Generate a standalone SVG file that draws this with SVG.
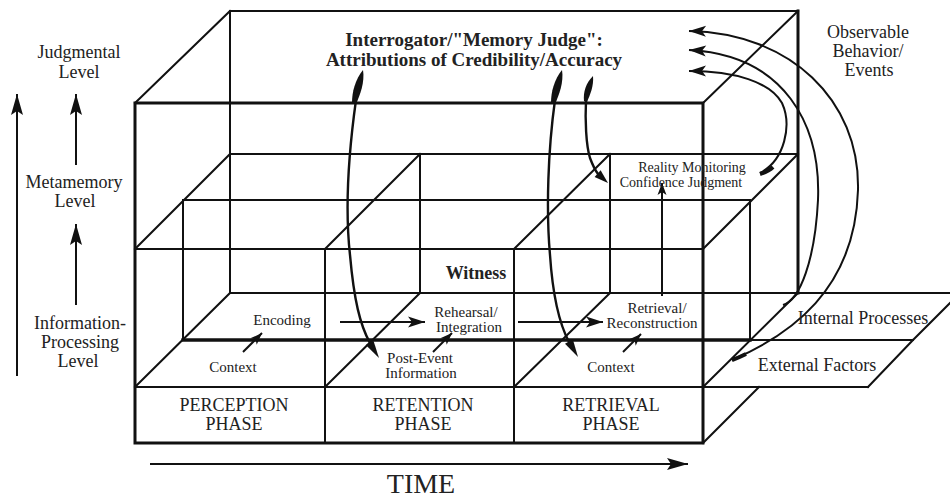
<svg xmlns="http://www.w3.org/2000/svg" width="950" height="499" viewBox="0 0 950 499">
<defs>
<style>
.t{font-family:"Liberation Serif","Times New Roman",serif;fill:#222;text-anchor:middle}
.b{font-weight:bold}
.L{font-size:18px}
.S{font-size:15px}
.ln{stroke:#111;stroke-width:2;fill:none;stroke-linecap:square}
.tk{stroke:#111;stroke-width:3;fill:none;stroke-linecap:square}
.c{stroke:#111;stroke-width:2;fill:none}
.cv{stroke:#111;stroke-width:2.4;fill:none}
.hd{fill:#111;stroke:none}
</style>
<marker id="big" viewBox="-22 -8 24 16" refX="0" refY="0" markerWidth="24" markerHeight="16" markerUnits="userSpaceOnUse" orient="auto">
<path d="M0,0 L-21,-6 L-17,0 L-21,6 Z" fill="#111"/>
</marker>
<marker id="mid" viewBox="-20 -7 22 14" refX="0" refY="0" markerWidth="22" markerHeight="14" markerUnits="userSpaceOnUse" orient="auto">
<path d="M0,0 L-17,-5.5 L-13,0 L-17,5.5 Z" fill="#111"/>
</marker>
<marker id="sm" viewBox="-14 -6 16 12" refX="0" refY="0" markerWidth="16" markerHeight="12" markerUnits="userSpaceOnUse" orient="auto">
<path d="M0,0 L-12,-4.5 L-9,0 L-12,4.5 Z" fill="#111"/>
</marker>
</defs>
<rect width="950" height="499" fill="#fff"/>

<g id="frame">
<path class="ln" d="M230,11 H798 M230,11 V293 M230,11 L135,103 M798,11 L703,103"/>
<path class="tk" d="M798,11 V293"/>
<path class="tk" d="M135,103 H703 M135,103 V443 H703 V103"/>
<path class="ln" d="M230,154 H798 M135,249 H703 M230,154 L135,249 M798,154 L703,249 M420,154 L325,249 M610,154 L514,249 M183,200 H750"/>
<path class="ln" d="M183,200 V340 M750,200 V340 M420,154 V293 M610,154 V293"/>
<path class="ln" d="M230,293 H950 M750,340 H913 M135,387 H868 M230,293 L135,387 M420,293 L325,387 M610,293 L514,387 M798,293 L703,387 M960,293 L913,340 M913,340 L868,387 M703,443 L759,387 M325,249 V443 M514,249 V443"/>
<path class="tk" d="M183,340 H750" style="stroke-width:3.4"/>
</g>

<g id="connectors">
<path class="c" d="M17,376 V94" marker-end="url(#big)"/>
<path class="c" d="M76,165 V94" marker-end="url(#big)"/>
<path class="c" d="M76,305 V224" marker-end="url(#big)"/>
<path class="c" d="M150,464 H688" marker-end="url(#big)"/>
<path class="c" d="M340,322 H425" marker-end="url(#mid)"/>
<path class="c" d="M518,322 H603" marker-end="url(#mid)"/>
<path class="c" d="M243,352 L262,333" marker-end="url(#sm)"/>
<path class="c" d="M433,352 L452,333" marker-end="url(#sm)"/>
<path class="c" d="M623,352 L641,334" marker-end="url(#sm)"/>
<path class="c" d="M662,296 V183" marker-end="url(#sm)"/>
<path class="cv" d="M356,100 C349,150 345,210 350,255 C354,300 360,325 370,343"/>
<path class="hd" d="M363,70 C365,82 360,95 356,104 L352,103 C352,92 355,80 363,70 Z"/>
<path class="hd" d="M379,358 L373.4,340.4 L365.8,345 Z"/>
<path class="cv" d="M555,100 C548,150 546,210 550,255 C553,300 560,325 569,342"/>
<path class="hd" d="M562,70 C564,82 559,95 555,104 L551,103 C551,92 554,80 562,70 Z"/>
<path class="hd" d="M578,357 L572.8,339.2 L565,343.8 Z"/>
<path class="cv" d="M586,100 C585,120 586,145 590,158 C593,166 595,170 598,174"/>
<path class="hd" d="M593,76 C594,86 590,95 587,102 L584,101 C583,92 586,83 593,76 Z"/>
<path class="hd" d="M608,183 L600.6,170.3 L594.6,176.9 Z"/>
<path class="c" d="M760,173 C785,160 792,125 782,103 C770,82 735,71 689,71" marker-end="url(#mid)"/>
<path d="M760,174 C766,172 770,170 773,167" stroke="#111" stroke-width="4" fill="none"/>
<path class="c" d="M783,305 C800,300 815,260 818,200 C821,125 785,55 689,50" marker-end="url(#mid)"/>
<path class="c" d="M732,360 C790,335 855,290 858,190 C860,100 790,33 689,31" marker-end="url(#mid)"/>
<path d="M732,360 C738,358 742,356 746,354" stroke="#111" stroke-width="4" fill="none"/>
</g>

<g id="level-judgmental"><text class="t L" x="79" y="58">Judgmental</text><text class="t L" x="79" y="78">Level</text></g>
<g id="level-metamemory"><text class="t L" x="74" y="188">Metamemory</text><text class="t L" x="75" y="207">Level</text></g>
<g id="level-information"><text class="t L" x="80" y="329">Information-</text><text class="t L" x="80" y="348">Processing</text><text class="t L" x="78" y="367">Level</text></g>
<g id="interrogator"><text class="t b" style="font-size:19px" x="474" y="46">Interrogator/"Memory Judge":</text><text class="t b" style="font-size:19px" x="474" y="66">Attributions of Credibility/Accuracy</text></g>
<g id="observable"><text class="t L" x="868" y="38">Observable</text><text class="t L" x="868" y="57">Behavior/</text><text class="t L" x="869" y="76">Events</text></g>
<g id="reality-monitoring"><text class="t" style="font-size:14px" x="692" y="172">Reality Monitoring</text><text class="t" style="font-size:14px" x="681" y="187">Confidence Judgment</text></g>
<g id="witness"><text class="t b L" x="476" y="279">Witness</text></g>
<g id="encoding"><text class="t S" x="282" y="325">Encoding</text></g>
<g id="rehearsal"><text class="t S" x="466" y="317">Rehearsal/</text><text class="t S" x="469" y="332">Integration</text></g>
<g id="retrieval-reconstruction"><text class="t S" x="657" y="313">Retrieval/</text><text class="t S" x="652" y="328">Reconstruction</text></g>
<g id="internal-processes"><text class="t L" x="863" y="324">Internal Processes</text></g>
<g id="context-perception"><text class="t S" x="233" y="372">Context</text></g>
<g id="post-event"><text class="t S" x="420" y="363">Post-Event</text><text class="t S" x="421" y="378">Information</text></g>
<g id="context-retrieval"><text class="t S" x="611" y="372">Context</text></g>
<g id="external-factors"><text class="t L" x="817" y="371">External Factors</text></g>
<g id="phase-perception"><text class="t L" x="234" y="411">PERCEPTION</text><text class="t L" x="234" y="430">PHASE</text></g>
<g id="phase-retention"><text class="t L" x="423" y="411">RETENTION</text><text class="t L" x="423" y="430">PHASE</text></g>
<g id="phase-retrieval"><text class="t L" x="611" y="411">RETRIEVAL</text><text class="t L" x="611" y="430">PHASE</text></g>
<g id="time"><text class="t" style="font-size:28px" x="421" y="493">TIME</text></g>
</svg>
